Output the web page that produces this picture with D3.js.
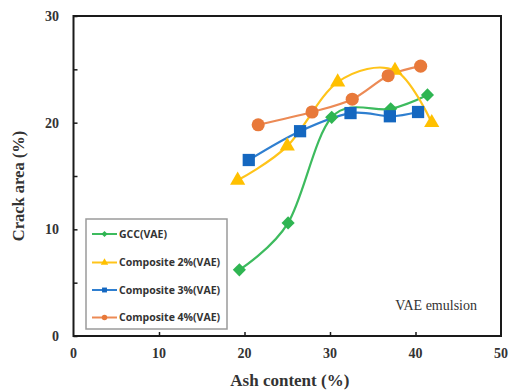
<!DOCTYPE html>
<html>
<head>
<meta charset="utf-8">
<script src="https://cdn.jsdelivr.net/npm/d3@7"></script>
<style>
  html, body { margin: 0; padding: 0; background: #fff; }
  svg { display: block; }
</style>
</head>
<body>
<svg id="chart" width="510" height="390"></svg>
<script>
// Crack area vs ash content, VAE emulsion series
const seriesNames = ["GCC(VAE)", "Composite 2%(VAE)", "Composite 3%(VAE)", "Composite 4%(VAE)"];
const gccAsh = [19.4, 25.1, 30.2, 37.1, 41.4];
const gccCrack = [6.2, 10.6, 20.5, 21.3, 22.6];
const comp2Ash = [19.2, 25.0, 30.9, 37.6, 41.9];
const comp2Crack = [14.6, 17.8, 23.8, 24.9, 20.0];
const comp3Ash = [20.5, 26.5, 32.4, 37.0, 40.3];
const comp3Crack = [16.5, 19.2, 20.9, 20.6, 21.0];
const comp4Ash = [21.6, 27.9, 32.6, 36.8, 40.6];
const comp4Crack = [19.8, 21.0, 22.2, 24.4, 25.3];
const xTicks = [0, 10, 20, 30, 40, 50];
const yTicks = [0, 10, 20, 30];

const series = [
  { name: seriesNames[0], xs: gccAsh, ys: gccCrack, color: "#2fb552", line: "#3dbb5e", shape: d3.symbolDiamond2, size: 110 },
  { name: seriesNames[1], xs: comp2Ash, ys: comp2Crack, color: "#ffc000", line: "#ffc41a", shape: d3.symbolTriangle, size: 100 },
  { name: seriesNames[2], xs: comp3Ash, ys: comp3Crack, color: "#1467c0", line: "#2f7fd0", shape: d3.symbolSquare, size: 150 },
  { name: seriesNames[3], xs: comp4Ash, ys: comp4Crack, color: "#e8793a", line: "#ec8a55", shape: d3.symbolCircle, size: 135 }
];

const svg = d3.select("#chart");
const plotLeft = 73.5, plotRight = 501, plotTop = 16, plotBottom = 336;

const x = d3.scaleLinear().domain([0, 50]).range([plotLeft, plotRight]);
const y = d3.scaleLinear().domain([0, 30]).range([plotBottom, plotTop]);

const serif = "'Liberation Serif', 'Times New Roman', serif";

// Frame
svg.append("rect")
  .attr("x", plotLeft).attr("y", plotTop)
  .attr("width", plotRight - plotLeft).attr("height", plotBottom - plotTop)
  .attr("fill", "none").attr("stroke", "#1a1a1a").attr("stroke-width", 2);

// Y axis: major ticks labelled, minor ticks at the halves, all pointing inward
const yAxis = d3.axisRight(y).tickValues(d3.range(0, 31, 5)).tickSize(4).tickFormat("");
svg.append("g").attr("transform", `translate(${plotLeft},0)`).call(yAxis)
  .call(g => g.select(".domain").remove())
  .call(g => g.selectAll("line").attr("stroke", "#1a1a1a").attr("stroke-width", 1.5));

svg.append("g").selectAll("text").data(yTicks).join("text")
  .attr("x", 59).attr("y", d => y(d) + 5)
  .attr("text-anchor", "end")
  .attr("font-family", serif).attr("font-weight", "bold").attr("font-size", 14)
  .attr("fill", "#333").text(d => d);

const xAxis = d3.axisTop(x).tickValues(xTicks.slice(1, -1)).tickSize(4).tickFormat("");
svg.append("g").attr("transform", `translate(0,${plotBottom})`).call(xAxis)
  .call(g => g.select(".domain").remove())
  .call(g => g.selectAll("line").attr("stroke", "#1a1a1a").attr("stroke-width", 1.5));

svg.append("g").selectAll("text").data(xTicks).join("text")
  .attr("x", d => x(d)).attr("y", 358)
  .attr("text-anchor", "middle")
  .attr("font-family", serif).attr("font-weight", "bold").attr("font-size", 14)
  .attr("fill", "#333").text(d => d);

// Axis titles
svg.append("text")
  .attr("x", x(25.3)).attr("y", 386)
  .attr("text-anchor", "middle")
  .attr("font-family", serif).attr("font-weight", "bold").attr("font-size", 17)
  .attr("fill", "#333").text("Ash content (%)");

svg.append("text")
  .attr("transform", `translate(24,186) rotate(-90)`)
  .attr("text-anchor", "middle")
  .attr("font-family", serif).attr("font-weight", "bold").attr("font-size", 16.5)
  .attr("fill", "#333").text("Crack area (%)");

// Smoothed series lines
const line = d3.line().x(d => x(d[0])).y(d => y(d[1])).curve(d3.curveCardinal.tension(0));

series.forEach(s => {
  const pts = s.xs.map((v, i) => [v, s.ys[i]]);
  svg.append("path").datum(pts)
    .attr("d", line)
    .attr("fill", "none").attr("stroke", s.line).attr("stroke-width", 2.2);
});

series.forEach(s => {
  const pts = s.xs.map((v, i) => [v, s.ys[i]]);
  svg.append("g").selectAll("path").data(pts).join("path")
    .attr("transform", d => `translate(${x(d[0])},${y(d[1])})`)
    .attr("d", d3.symbol().type(s.shape).size(s.size))
    .attr("fill", s.color);
});

// Legend
const lg = svg.append("g");
lg.append("rect")
  .attr("x", 86).attr("y", 219).attr("width", 141).attr("height", 110)
  .attr("fill", "#fff").attr("stroke", "#9a9a9a").attr("stroke-width", 1.5);

const rowY = [234, 262.5, 290, 317.5];
series.forEach((s, i) => {
  lg.append("line")
    .attr("x1", 92).attr("x2", 117).attr("y1", rowY[i]).attr("y2", rowY[i])
    .attr("stroke", s.line).attr("stroke-width", 2);
  lg.append("path")
    .attr("transform", `translate(104.5,${rowY[i]})`)
    .attr("d", d3.symbol().type(s.shape).size(24))
    .attr("fill", s.color);
  lg.append("text")
    .attr("x", 119).attr("y", rowY[i] + 3.5)
    .attr("font-family", "'Open Sans', sans-serif").attr("font-weight", "bold")
    .attr("font-size", 10.5).attr("fill", "#333")
    .text(s.name);
});

// Annotation
svg.append("text")
  .attr("x", 477).attr("y", 310)
  .attr("text-anchor", "end")
  .attr("font-family", serif).attr("font-size", 14)
  .attr("fill", "#333").text("VAE emulsion");
</script>
</body>
</html>
